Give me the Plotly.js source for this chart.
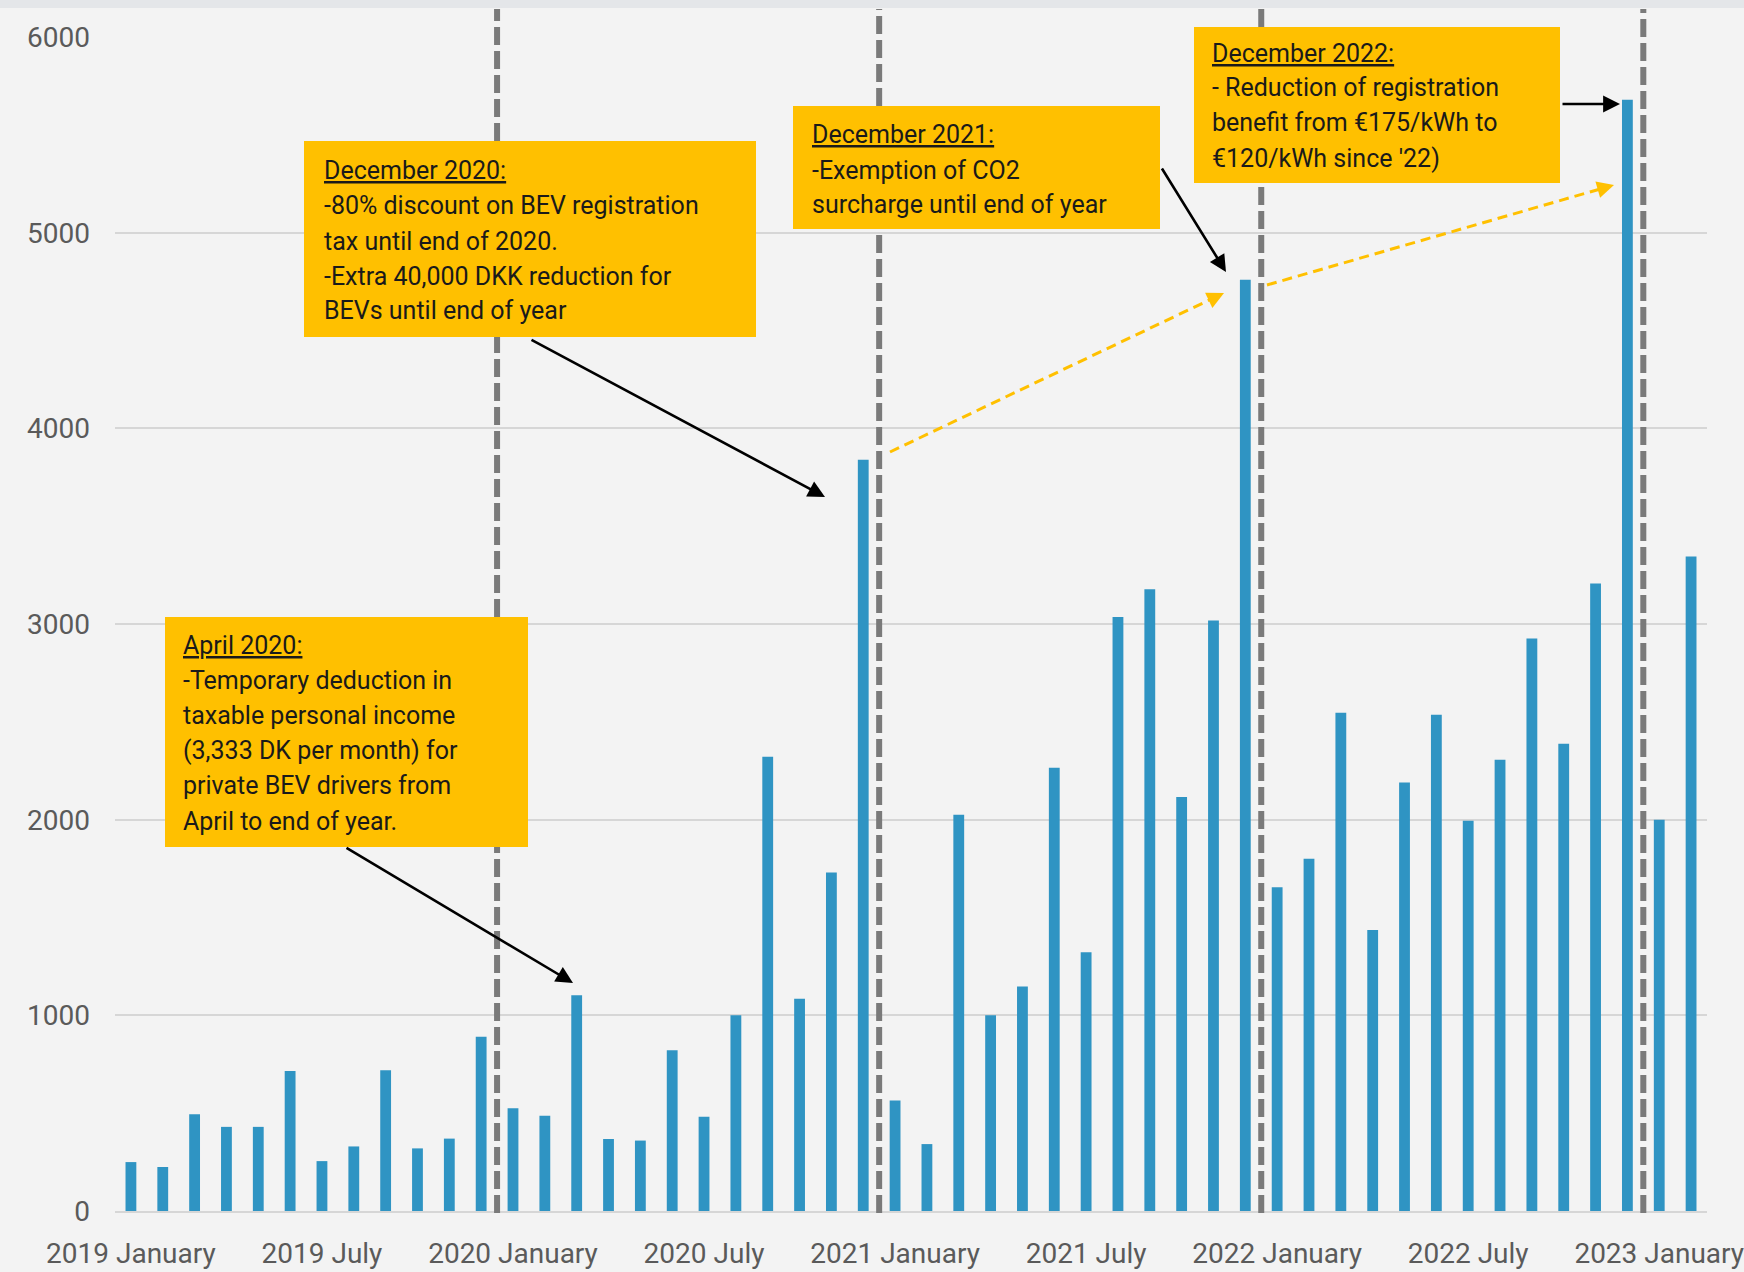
<!DOCTYPE html>
<html>
<head>
<meta charset="utf-8">
<script src="https://cdn.plot.ly/plotly-3.0.1.min.js"></script>
<style>html,body{margin:0;padding:0;background:#f3f3f3;}#chart{width:1744px;height:1272px;}</style>
</head>
<body>
<div id="chart"></div>
<script>
// ---- data ----
const years = [2019, 2020, 2021, 2022, 2023];
const monthNames = ["January","February","March","April","May","June","July","August","September","October","November","December"];
const values2019 = [250, 225, 495, 430, 430, 715, 255, 330, 720, 320, 370, 890];
const values2020 = [525, 487, 1103, 368, 360, 822, 482, 1001, 2322, 1085, 1730, 3840];
const values2021 = [565, 342, 2025, 1000, 1148, 2265, 1322, 3036, 3178, 2116, 3018, 4760];
const values2022 = [1655, 1800, 2547, 1436, 2190, 2537, 1995, 2306, 2926, 2388, 3207, 5680];
const values2023 = [2000, 3345];
const policyYearStarts = ["2020 January", "2021 January", "2022 January", "2023 January"];
const yTicks = [0, 1000, 2000, 3000, 4000, 5000, 6000];

const boxApr2020 = ["April 2020:", "-Temporary deduction in", "taxable personal income", "(3,333 DK per month) for", "private BEV drivers from", "April to end of year."];
const boxDec2020 = ["December 2020:", "-80% discount on BEV registration", "tax until end of 2020.", "-Extra 40,000 DKK reduction for", "BEVs until end of year"];
const boxDec2021 = ["December 2021:", "-Exemption of CO2", "surcharge until end of year"];
const boxDec2022 = ["December 2022:", "- Reduction of registration", "benefit from €175/kWh to", "€120/kWh since '22)"];

// ---- build series ----
const allValues = [values2019, values2020, values2021, values2022, values2023];
const categories = [];
const values = [];
years.forEach((yr, yi) => {
  allValues[yi].forEach((v, mi) => {
    categories.push(yr + " " + monthNames[mi]);
    values.push(v);
  });
});
const tickCats = categories.filter((c, i) => i % 6 === 0);
const xRange = [-0.5, categories.length - 0.5];

// ---- geometry helpers (pixel -> paper) ----
const L = 115, R = 1707, T = 37, B = 1211;
const W = R - L, H = B - T;
const px = x => (x - L) / W;
const py = y => (B - y) / H;
const catPaper = v => (v - xRange[0]) / (xRange[1] - xRange[0]);

const FONT = "Roboto, 'Liberation Sans', sans-serif";
const shapes = [];
const annotations = [];

// box geometry (pixels): [x0, y0, x1, y1, textX, lineYs]
const boxes = [
  {lines: boxDec2020, x0: 304, y0: 141, x1: 756, y1: 337, tx: 322, ys: [170, 206, 241, 276, 311]},
  {lines: boxDec2021, x0: 793, y0: 106, x1: 1160, y1: 229, tx: 810, ys: [135, 170, 204]},
  {lines: boxDec2022, x0: 1194, y0: 27, x1: 1560, y1: 183, tx: 1210, ys: [53, 88, 123, 158]},
  {lines: boxApr2020, x0: 165, y0: 617, x1: 528, y1: 847, tx: 181, ys: [645, 680, 715, 750, 785, 821]}
];

// top band
shapes.push({type: "rect", xref: "paper", yref: "paper", x0: px(0), x1: px(1744), y0: py(8), y1: py(0),
  fillcolor: "#e4e6e9", line: {width: 0}, layer: "below"});

// dashed year separators (between December and January), interrupted by the boxes
policyYearStarts.forEach(c => {
  const xp = catPaper(categories.indexOf(c) - 0.5);
  const xpix = L + xp * W;
  const blocks = boxes.filter(b => xpix >= b.x0 - 3 && xpix <= b.x1 + 3)
                      .map(b => [b.y0, b.y1]).sort((a, b) => a[0] - b[0]);
  let start = 9;
  const segs = [];
  blocks.forEach(([a, b]) => { if (a > start) segs.push([start, a]); start = Math.max(start, b); });
  if (start < 1213) segs.push([start, 1213]);
  segs.forEach(([s, e]) => {
    shapes.push({type: "line", xref: "paper", yref: "paper", x0: xp, x1: xp, y0: py(e), y1: py(s),
      line: {color: "#7a7a7a", width: 6, dash: "18px,6px"}, layer: "above"});
  });
});

// annotation boxes
boxes.forEach(b => {
  shapes.push({type: "rect", xref: "paper", yref: "paper", x0: px(b.x0), x1: px(b.x1), y0: py(b.y1), y1: py(b.y0),
    fillcolor: "#ffc000", line: {width: 0}, layer: "above"});
  b.lines.forEach((t, i) => {
    annotations.push({xref: "paper", yref: "paper", x: px(b.tx), y: py(b.ys[i]), xanchor: "left", yanchor: "middle",
      showarrow: false, text: i === 0 ? "<u>" + t + "</u>" : t,
      font: {family: FONT, size: 25, color: "#1a1a1a"}});
  });
});

// black arrows
function arrow(sx, sy, tx, ty, color) {
  annotations.push({xref: "paper", yref: "paper", x: px(tx), y: py(ty), ax: sx - tx, ay: sy - ty,
    text: "", showarrow: true, arrowhead: 2, arrowsize: 1.3, arrowwidth: 2.6, arrowcolor: color, standoff: 0});
}
arrow(345, 847, 573, 983, "#000000");
arrow(530, 339, 825, 497, "#000000");
arrow(1161, 167, 1226, 272, "#000000");
arrow(1561, 104, 1620, 104, "#000000");

// yellow dashed arrows
function dashedArrow(sx, sy, tx, ty) {
  const dx = tx - sx, dy = ty - sy, len = Math.hypot(dx, dy);
  const ux = dx / len, uy = dy / len;
  shapes.push({type: "line", xref: "paper", yref: "paper", x0: px(sx), y0: py(sy), x1: px(tx - ux * 10), y1: py(ty - uy * 10),
    line: {color: "#ffc000", width: 3, dash: "10px,6px"}, layer: "above"});
  annotations.push({xref: "paper", yref: "paper", x: px(tx), y: py(ty), ax: -ux * 14, ay: -uy * 14,
    text: "", showarrow: true, arrowhead: 2, arrowsize: 1.3, arrowwidth: 2.6, arrowcolor: "#ffc000", standoff: 0});
}
dashedArrow(890, 452, 1224, 293);
dashedArrow(1267, 285, 1614, 185);

const trace = {
  type: "bar", x: categories, y: values,
  marker: {color: "#2f94c3"}, hoverinfo: "x+y"
};

const layout = {
  width: 1744, height: 1272,
  margin: {l: L, r: 1744 - R, t: T, b: 1272 - B, pad: 0},
  paper_bgcolor: "#f3f3f3", plot_bgcolor: "rgba(0,0,0,0)",
  bargap: 0.66,
  showlegend: false,
  xaxis: {
    type: "category", range: xRange,
    tickmode: "array", tickvals: tickCats, ticktext: tickCats,
    showgrid: false, zeroline: false, showline: true, linecolor: "#d6d6d6", linewidth: 2,
    ticks: "", ticklabelstandoff: 16,
    tickfont: {family: FONT, size: 28, color: "#5a5a5a"}
  },
  yaxis: {
    range: [0, 6000.5], tickmode: "array", tickvals: yTicks,
    showgrid: true, gridcolor: "#d6d6d6", gridwidth: 2, zeroline: false, showline: false,
    ticks: "", ticklabelstandoff: 24,
    tickfont: {family: FONT, size: 28, color: "#5a5a5a"}
  },
  shapes: shapes,
  annotations: annotations
};

Plotly.newPlot("chart", [trace], layout, {displayModeBar: false, staticPlot: true});
</script>
</body>
</html>
